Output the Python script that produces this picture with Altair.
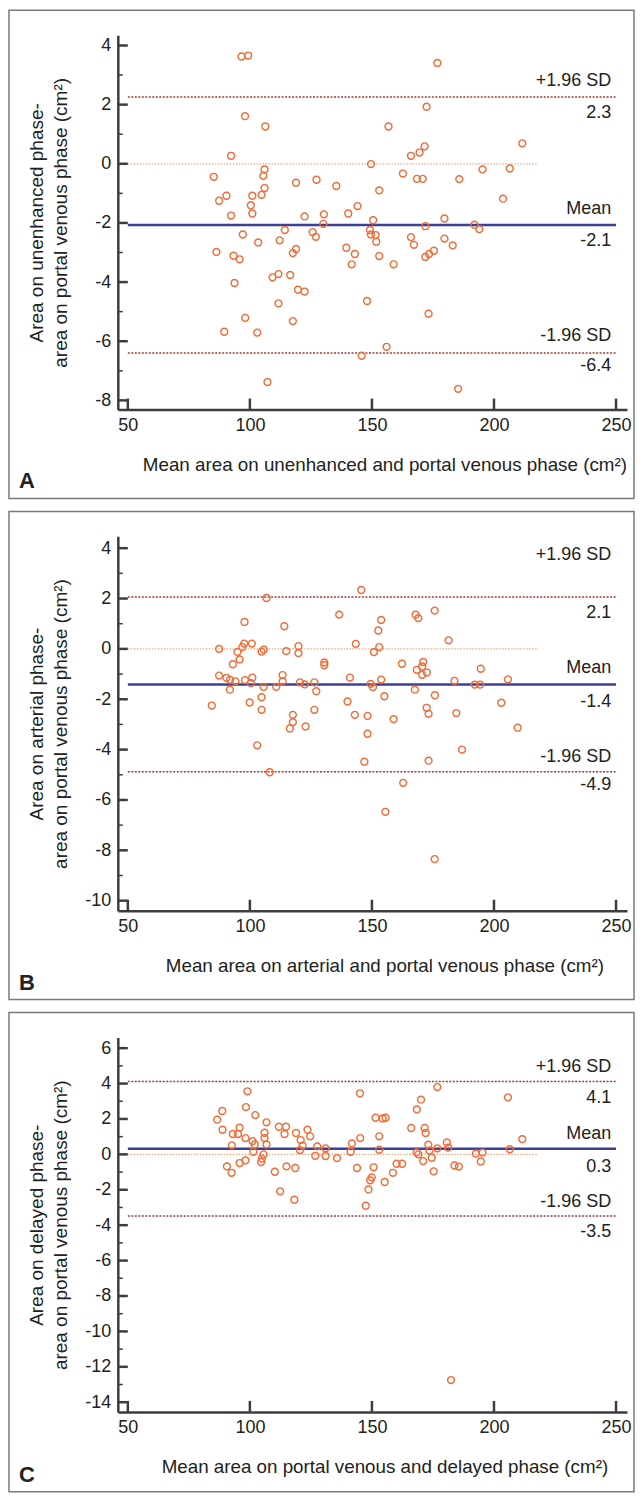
import altair as alt
import pandas as pd

# ------------------------------------------------------------------ data
X_TICKS = [50, 100, 150, 200, 250]

# Panel A : unenhanced vs portal venous
A_X = [96.6, 99.3, 98.0, 106.3, 92.3, 106.0, 85.2, 105.5, 118.9, 106.0, 90.4, 101.0,
       104.8, 87.4, 100.4, 92.3, 101.0, 114.3, 97.1, 112.2, 103.4, 86.3, 93.3, 95.8,
       118.9, 117.6, 109.3, 111.7, 116.5, 93.7, 119.7, 111.7, 98.1, 117.6, 89.5, 103.0,
       107.2,
       176.8, 172.4, 156.8, 171.6, 166.0, 169.5, 149.6, 162.7, 168.4, 170.8, 127.3, 135.4,
       153.0, 144.1, 122.4, 130.3, 140.3, 130.1, 150.5, 149.2, 149.6, 151.5, 151.8, 125.7,
       127.0, 171.9, 166.0, 167.2, 139.5, 143.0, 153.0, 141.7, 158.9, 171.9, 173.4, 175.4,
       122.4, 148.0, 173.2, 156.0, 145.8,
       179.7, 185.8, 192.0, 194.0, 195.3, 203.7, 206.5, 211.6, 183.1, 185.3, 179.7]
A_Y = [3.63, 3.66, 1.61, 1.26, 0.27, -0.19, -0.44, -0.41, -0.64, -0.82, -1.08, -1.08,
       -1.05, -1.25, -1.40, -1.75, -1.68, -2.24, -2.39, -2.59, -2.66, -2.98, -3.11, -3.23,
       -2.88, -3.02, -3.84, -3.73, -3.76, -4.03, -4.26, -4.72, -5.21, -5.32, -5.68, -5.71,
       -7.38,
       3.41, 1.93, 1.26, 0.59, 0.27, 0.38, -0.01, -0.33, -0.51, -0.51, -0.54, -0.75,
       -0.90, -1.43, -1.78, -1.71, -1.68, -2.03, -1.91, -2.24, -2.39, -2.41, -2.64, -2.31,
       -2.47, -2.11, -2.48, -2.74, -2.84, -3.05, -3.12, -3.40, -3.40, -3.15, -3.05, -2.94,
       -4.32, -4.64, -5.07, -6.19, -6.49,
       -1.85, -0.52, -2.06, -2.21, -0.19, -1.18, -0.16, 0.69, -2.76, -7.61, -2.53]
A_LINES = [2.26, -2.07, -6.40]          # +1.96 SD, mean, -1.96 SD
A_VALUE_TEXT = ["2.3", "-2.1", "-6.4"]
A_Y_MAJOR = [-8, -6, -4, -2, 0, 2, 4]
A_Y_MINOR = [-7, -5, -3, -1, 1, 3]

# Panel B : arterial vs portal venous
B_X = [106.8, 97.8, 114.1, 87.4, 97.7, 100.8, 96.9, 94.9, 104.8, 105.7, 114.9, 119.9,
       119.9, 95.8, 93.0, 87.4, 90.4, 91.9, 94.1, 98.0, 101.0, 100.4, 113.4, 113.4,
       105.6, 110.8, 120.5, 91.8, 104.8, 84.4, 99.9, 104.8, 117.6, 117.6, 116.4, 103.0,
       108.1,
       145.6, 136.6, 167.9, 169.0, 175.7, 153.8, 152.6, 143.4, 153.0, 150.8, 130.5, 130.5,
       162.3, 171.0, 170.6, 168.4, 170.6, 172.5, 141.0, 153.8, 122.5, 126.4, 127.2, 149.5,
       150.4, 155.1, 167.6, 175.8, 140.0, 126.4, 122.8, 143.0, 148.2, 158.9, 172.4, 173.2,
       148.2, 146.9, 173.2, 162.8, 155.5, 175.7,
       181.4, 194.6, 183.8, 192.1, 194.3, 205.7, 203.0, 184.6, 209.7, 186.9]
B_Y = [2.02, 1.07, 0.90, 0.00, 0.21, 0.21, 0.07, -0.12, -0.11, -0.03, -0.09, 0.11,
       -0.17, -0.42, -0.61, -1.06, -1.15, -1.23, -1.29, -1.24, -1.14, -1.36, -1.04, -1.29,
       -1.51, -1.51, -1.33, -1.62, -1.92, -2.25, -2.13, -2.42, -2.62, -2.91, -3.16, -3.83,
       -4.90,
       2.34, 1.36, 1.36, 1.22, 1.52, 1.15, 0.73, 0.20, 0.07, -0.13, -0.54, -0.65,
       -0.59, -0.52, -0.70, -0.83, -1.03, -0.94, -1.14, -1.22, -1.41, -1.33, -1.68, -1.39,
       -1.52, -1.88, -1.62, -1.84, -2.09, -2.42, -3.08, -2.62, -2.66, -2.79, -2.34, -2.58,
       -3.37, -4.48, -4.44, -5.32, -6.47, -8.35,
       0.34, -0.79, -1.27, -1.42, -1.42, -1.21, -2.14, -2.55, -3.13, -4.00]
B_LINES = [2.06, -1.41, -4.88]
B_VALUE_TEXT = ["2.1", "-1.4", "-4.9"]
B_Y_MAJOR = [-10, -8, -6, -4, -2, 0, 2, 4]
B_Y_MINOR = [-9, -7, -5, -3, -1, 1, 3]

# Panel C : portal venous vs delayed
C_X = [99.0, 88.7, 98.4, 86.6, 102.2, 106.8, 88.8, 95.8, 111.9, 114.8, 93.0, 95.1,
       106.0, 114.2, 118.9, 98.2, 101.1, 106.0, 120.8, 92.6, 102.0, 106.8, 120.5, 101.4,
       105.6, 104.9, 104.6, 98.2, 95.8, 90.6, 92.5, 110.2, 115.0, 118.6, 112.4, 118.2,
       145.1, 176.8, 170.1, 168.4, 151.5, 154.4, 155.6, 166.1, 171.6, 172.0, 123.6, 124.7,
       153.0, 145.2, 141.8, 121.6, 127.6, 131.0, 141.3, 153.0, 173.1, 168.3, 169.0, 173.6,
       176.8, 126.8, 131.0, 135.7, 171.0, 174.5, 143.9, 150.7, 160.1, 162.4, 158.6, 175.3,
       149.9, 149.3, 148.6, 155.2, 147.5,
       205.7, 211.6, 206.5, 192.6, 195.3, 194.6, 183.8, 185.6, 180.7, 181.2, 182.4]
C_Y = [3.56, 2.45, 2.67, 1.96, 2.22, 1.81, 1.39, 1.51, 1.56, 1.56, 1.15, 1.15,
       1.22, 1.15, 1.21, 0.92, 0.75, 0.92, 0.81, 0.51, 0.56, 0.56, 0.24, 0.15,
       0.00, -0.24, -0.43, -0.34, -0.49, -0.68, -1.04, -0.98, -0.68, -0.77, -2.09, -2.56,
       3.45, 3.80, 3.09, 2.54, 2.07, 2.03, 2.07, 1.49, 1.49, 1.21, 1.39, 1.02,
       1.02, 0.92, 0.62, 0.49, 0.45, 0.34, 0.15, 0.26, 0.55, 0.11, 0.00, 0.21,
       0.34, -0.08, -0.09, -0.21, -0.38, -0.19, -0.77, -0.73, -0.53, -0.53, -1.04, -0.96,
       -1.30, -1.47, -1.98, -1.56, -2.90,
       3.22, 0.86, 0.29, 0.04, 0.10, -0.40, -0.63, -0.69, 0.67, 0.38, -12.75]
C_LINES = [4.12, 0.32, -3.48]
C_VALUE_TEXT = ["4.1", "0.3", "-3.5"]
C_Y_MAJOR = [-14, -12, -10, -8, -6, -4, -2, 0, 2, 4, 6]
C_Y_MINOR = [-13, -11, -9, -7, -5, -3, -1, 1, 3, 5]

LINE_NAMES = ["+1.96 SD", "Mean", "-1.96 SD"]

# ------------------------------------------------------------------ style
FONT = "Liberation Sans"
AX = "#3d3d3d"
TXT = "#222222"
PT = "#f26a35"
W, H = 510, 375
X_DOMAIN = [45.9, 254.5]


def panel(xs, ys, lines, value_text, y_dom, y_major, y_minor, ytitle, xtitle,
          letter, name_dy, value_dy, frame_bottom):
    xscale = alt.Scale(domain=X_DOMAIN, nice=False, zero=False)
    yscale = alt.Scale(domain=y_dom, nice=False, zero=False)
    xaxis = alt.Axis(values=X_TICKS, ticks=False, grid=False, domainColor=AX,
                     domainWidth=2.5, labelFont=FONT, labelFontSize=18,
                     labelColor=TXT, labelPadding=7, labelFlush=False,
                     title=xtitle, titleFont=FONT, titleFontSize=18.8,
                     titleFontWeight="normal", titleColor=TXT, titleX=267,
                     titleY=55, titleBaseline="middle", titleAlign="center")
    yaxis = alt.Axis(values=y_major, ticks=False, grid=False, domainColor=AX,
                     domainWidth=2.5, labelFont=FONT, labelFontSize=18,
                     labelColor=TXT, labelPadding=7, labelFlush=False,
                     labelExpr="'' + datum.value",
                     title=ytitle, titleFont=FONT, titleFontSize=19,
                     titleFontWeight="normal", titleColor=TXT, titleAngle=-90,
                     titleX=-81, titleY=H / 2, titleLineHeight=24,
                     titleBaseline="middle", titleAlign="center")
    X = alt.X("x:Q", scale=xscale, axis=xaxis)
    Y = alt.Y("y:Q", scale=yscale, axis=yaxis)

    one = pd.DataFrame({"k": [0]})
    layers = []
    # frame around the whole panel
    layers.append(alt.Chart(one).mark_rect(fillOpacity=0, stroke="#7a7a7a",
                                           strokeWidth=1.5).encode(
        x=alt.value(-109), x2=alt.value(517), y=alt.value(-25),
        y2=alt.value(frame_bottom)))
    # zero line
    layers.append(alt.Chart(pd.DataFrame({"x": [50], "x2": [218], "y": [0]}))
                  .mark_rule(color="#f5a57e", strokeWidth=1.2, strokeDash=[1.5, 1.5])
                  .encode(x=X, x2="x2:Q", y=Y))
    # limits of agreement
    layers.append(alt.Chart(pd.DataFrame({"x": [50, 50], "x2": [250, 250],
                                          "y": [lines[0], lines[2]]}))
                  .mark_rule(color="#9c3b3b", strokeWidth=1.4, strokeDash=[2, 1.5])
                  .encode(x=X, x2="x2:Q", y=Y))
    # mean line
    layers.append(alt.Chart(pd.DataFrame({"x": [50], "x2": [250], "y": [lines[1]]}))
                  .mark_rule(color="#3b3f96", strokeWidth=2.5)
                  .encode(x=X, x2="x2:Q", y=Y))
    # points
    layers.append(alt.Chart(pd.DataFrame({"x": xs, "y": ys}))
                  .mark_point(shape="circle", filled=False, size=48,
                              strokeWidth=1.4, color=PT, opacity=1)
                  .encode(x=X, y=Y))
    # labels
    for i in range(3):
        layers.append(alt.Chart(pd.DataFrame({"x": [248], "y": [lines[i]],
                                              "t": [LINE_NAMES[i]]}))
                      .mark_text(font=FONT, fontSize=18, color=TXT, align="right",
                                 baseline="middle", dy=name_dy[i])
                      .encode(x=X, y=Y, text="t:N"))
        layers.append(alt.Chart(pd.DataFrame({"x": [248], "y": [lines[i]],
                                              "t": [value_text[i]]}))
                      .mark_text(font=FONT, fontSize=18, color=TXT, align="right",
                                 baseline="middle", dy=value_dy[i])
                      .encode(x=X, y=Y, text="t:N"))
    # inward ticks
    layers.append(alt.Chart(pd.DataFrame({"y": y_major}))
                  .mark_rule(color=AX, strokeWidth=2.5)
                  .encode(y=Y, x=alt.value(0), x2=alt.value(10)))
    layers.append(alt.Chart(pd.DataFrame({"y": y_minor}))
                  .mark_rule(color=AX, strokeWidth=1.5)
                  .encode(y=Y, x=alt.value(0), x2=alt.value(5)))
    layers.append(alt.Chart(pd.DataFrame({"x": X_TICKS}))
                  .mark_rule(color=AX, strokeWidth=2.5)
                  .encode(x=X, y=alt.value(H), y2=alt.value(H - 11)))
    # panel letter
    layers.append(alt.Chart(one).mark_text(font=FONT, fontSize=22, fontWeight="bold",
                                           color=TXT, align="left", baseline="middle")
                  .encode(x=alt.value(-99), y=alt.value(frame_bottom - 17),
                          text=alt.value(letter)))
    return alt.layer(*layers).properties(width=W, height=H)


pA = panel(A_X, A_Y, A_LINES, A_VALUE_TEXT, [-8.31, 4.35], A_Y_MAJOR, A_Y_MINOR,
           ["Area on unenhanced phase-", "area on portal venous phase (cm²)"],
           "Mean area on unenhanced and portal venous phase (cm²)", "A",
           [-16, -16, -17], [16, 16, 13], 464)
pB = panel(B_X, B_Y, B_LINES, B_VALUE_TEXT, [-10.4, 4.47], B_Y_MAJOR, B_Y_MINOR,
           ["Area on arterial phase-", "area on portal venous phase (cm²)"],
           "Mean area on arterial and portal venous phase (cm²)", "B",
           [-42, -16, -15], [16, 18, 13], 464)
pC = panel(C_X, C_Y, C_LINES, C_VALUE_TEXT, [-14.55, 6.6], C_Y_MAJOR, C_Y_MINOR,
           ["Area on delayed phase-", "area on portal venous phase (cm²)"],
           "Mean area on portal venous and delayed phase (cm²)", "C",
           [-14, -15, -14], [17, 18, 16], 455)

chart = (alt.vconcat(pA, pB, pC, spacing=11)
         .properties(padding=0, background="white")
         .configure_view(stroke=None))

chart.save("out.html", embed_options={"renderer": "svg", "actions": False})
